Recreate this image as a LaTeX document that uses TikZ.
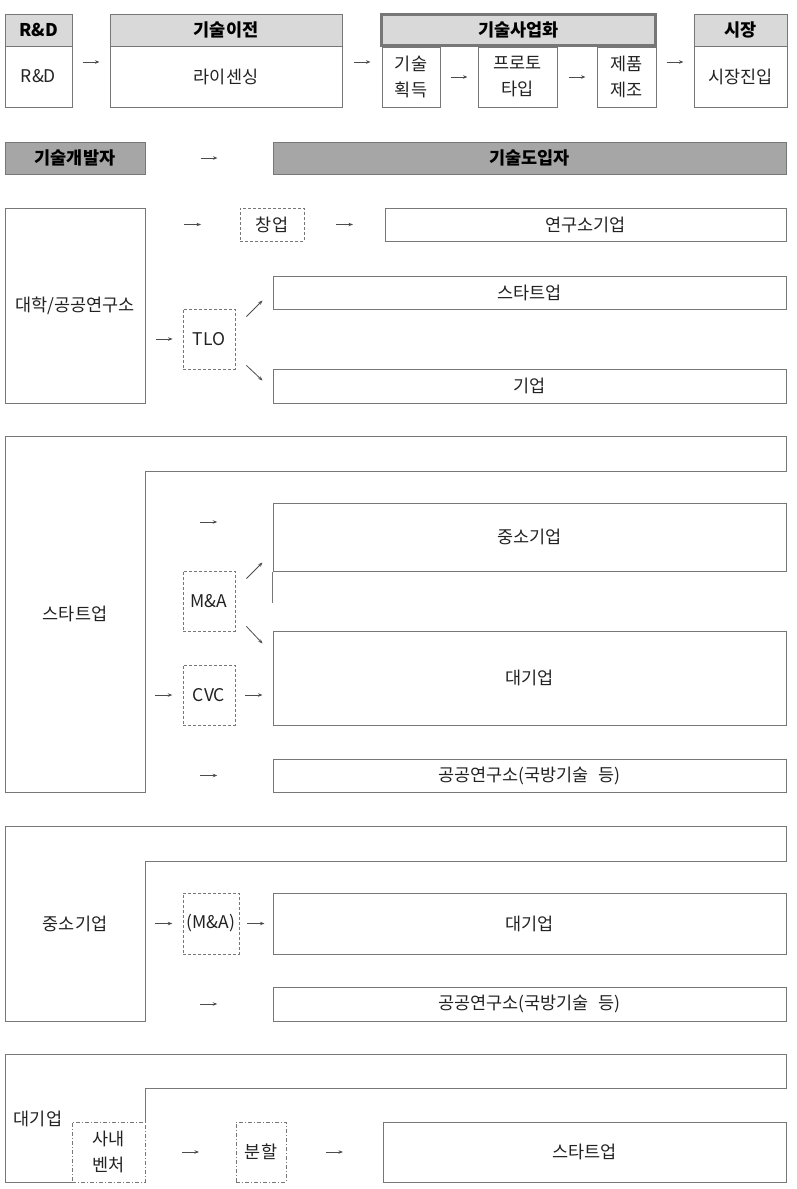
\documentclass[tikz,border=0pt]{standalone}
\usepackage{fontspec}
\setmainfont{Noto Sans CJK KR}
\usetikzlibrary{arrows.meta,calc,fit}
\definecolor{linegray}{HTML}{777777}
\definecolor{headgray}{HTML}{D9D9D9}
\definecolor{bargray}{HTML}{A6A6A6}
\definecolor{inkgray}{HTML}{222222}

\begin{document}
\begin{tikzpicture}[x=1pt, y=-1pt,
	every node/.style={font=\fontsize{17.5}{26}\selectfont, text=inkgray, align=center},
	box/.style={draw=linegray, line width=1pt, inner sep=0pt},
	head/.style={box, fill=headgray},
	bar/.style={box, fill=bargray},
	headtext/.style={font=\fontsize{17.5}{26}\selectfont\bfseries, text=black},
	dashbox/.style={draw=linegray, line width=0.8pt, dash pattern=on 3pt off 2pt, inner sep=0pt},
	dotbox/.style={draw=linegray, line width=0.8pt, dash pattern=on 4pt off 2pt on 1pt off 2pt, inner sep=0pt},
	tip/.style={-{Stealth[length=4.5pt,width=3.5pt]}, draw=black!70, line width=0.8pt},
	flow/.style={tip, to path={($(\tikztostart)!.5!(\tikztotarget)!8.5pt!(\tikztostart)$) -- ($(\tikztostart)!.5!(\tikztotarget)!8.5pt!(\tikztotarget)$)}},
	outline/.style={draw=linegray, line width=1pt}]
		%%%%% START %%%%%
		
		\useasboundingbox (0,0) rectangle (796,1189);
		
		% stages
		\node[head, fit={(5,14) (72,46)}, label={[headtext]center:R\&D}] (rndhead) {};
		\node[box, fit={(5,46) (72,107)}, label=center:{R\&D}] (rnd) {};
		\node[head, fit={(110,14) (342,46)}, label={[headtext]center:기술이전}] (lichead) {};
		\node[box, fit={(110,46) (342,107)}, label=center:라이센싱] (lic) {};
		\node[head, line width=3pt, fit={(381.5,14.5) (655.5,45.5)}, label={[headtext]center:기술사업화}] (comhead) {};
		\node[box, fit={(382,47) (440,107)}, label=center:{기술\\획득}] (acq) {};
		\node[box, fit={(478,47) (557,107)}, label=center:{프로토\\타입}] (proto) {};
		\node[box, fit={(597,47) (656,107)}, label=center:{제품\\제조}] (make) {};
		\node[head, fit={(694,14) (787,46)}, label={[headtext]center:시장}] (markethead) {};
		\node[box, fit={(694,46) (787,107)}, label=center:시장진입] (market) {};
		
		\coordinate (row1) at (0,62);
		\draw[flow] (rnd.east |- row1) to (lic.west |- row1);
		\draw[flow] (lic.east |- row1) to (acq.west |- row1);
		\draw[flow] (acq.east) to (proto.west);
		\draw[flow] (proto.east) to (make.west);
		\draw[flow] (make.east |- row1) to (market.west |- row1);
		
		\node[bar, fit={(5,142) (145,174)}, label={[headtext]center:기술개발자}] (dev) {};
		\node[bar, fit={(273,142) (786,174)}, label={[headtext]center:기술도입자}] (adopt) {};
		\draw[flow] (dev.east) to (adopt.west);
		
		% university
		\node[box, fit={(5,208) (145,403)}, label=center:대학/공공연구소] (uni) {};
		\node[dashbox, fit={(240,208) (304,241)}, label=center:창업] (found) {};
		\node[box, fit={(385,208) (786,241)}, label=center:연구소기업] (lab) {};
		\node[dashbox, fit={(183,309) (235,369)}, label=center:TLO] (tlo) {};
		\node[box, fit={(273,276) (786,309)}, label=center:스타트업] (sup1) {};
		\node[box, fit={(273,369) (786,403)}, label=center:기업] (firm) {};
		
		\draw[flow] (uni.east |- found) to (found.west);
		\draw[flow] (found.east) to (lab.west);
		\draw[flow] (uni.east |- tlo) to (tlo.west);
		\draw[tip] ($(tlo.north east)+(11,8)$) -- ($(sup1.south west)+(-10,-9)$);
		\draw[tip] ($(tlo.south east)+(11,-4)$) -- ($(firm.north west)+(-10,12)$);
		
		% startup
		\draw[outline] (5,436) -- (786,436) -- (786,471) -- (145,471) -- (145,792) -- (5,792) -- cycle;
		\coordinate (sec2) at (145,471);
		\node (sup2) at (75,614) {스타트업};
		\node[box, fit={(273,503) (786,571)}, label=center:중소기업] (smb) {};
		\draw[outline] (smb.south west) -- ++(0,31);
		\node[dashbox, fit={(183,571) (235,631)}, label=center:{M\&A}] (ma) {};
		\node[box, fit={(273,631) (786,725)}, label=center:대기업] (big) {};
		\node[dashbox, fit={(183,665) (235,725)}, label=center:CVC] (cvc) {};
		\node[box, fit={(273,759) (786,792)}, label=center:{공공연구소(국방기술\hspace{0.55em}등)}] (pub) {};
		
		\coordinate (ga) at (145,522);
		\draw[flow] (ga) to (smb.west |- ga);
		\draw[tip] ($(ma.north east)+(11,8)$) -- ($(smb.south west)+(-10,-9)$);
		\draw[tip] ($(ma.south east)+(11,-5)$) -- ($(big.north west)+(-10,13)$);
		\draw[flow] (sec2 |- cvc) to (cvc.west);
		\draw[flow] (cvc.east) to (big.west |- cvc);
		\draw[flow] (sec2 |- pub) to (pub.west);
		
		% small firm
		\draw[outline] (5,826) -- (786,826) -- (786,861) -- (145,861) -- (145,1021) -- (5,1021) -- cycle;
		\coordinate (sec3) at (145,861);
		\node (smb2) at (75,924) {중소기업};
		\node[dashbox, fit={(183,893) (239,954)}, label=center:{(M\&A)}] (ma2) {};
		\node[box, fit={(273,893) (786,954)}, label=center:대기업] (big2) {};
		\node[box, fit={(273,987) (786,1021)}, label=center:{공공연구소(국방기술\hspace{0.55em}등)}] (pub2) {};
		
		\draw[flow] (sec3 |- ma2) to (ma2.west);
		\draw[flow] (ma2.east) to (big2.west);
		\draw[flow] (sec3 |- pub2) to (pub2.west);
		
		% large firm
		\draw[outline] (145,1122) -- (145,1088) -- (786,1088) -- (786,1054) -- (5,1054) -- (5,1182) -- (72,1182);
		\node (big3) at (38,1119) {대기업};
		\node[dotbox, fit={(72,1122) (145,1182)}, label=center:{사내\\벤처}] (venture) {};
		\node[dotbox, fit={(236,1122) (286,1182)}, label=center:분할] (split) {};
		\node[box, fit={(383,1122) (786,1182)}, label=center:스타트업] (sup3) {};
		
		\draw[flow] (venture.east) to (split.west);
		\draw[flow] (split.east) to (sup3.west);
		
		%%%%% END %%%%%
\end{tikzpicture}
\end{document}
